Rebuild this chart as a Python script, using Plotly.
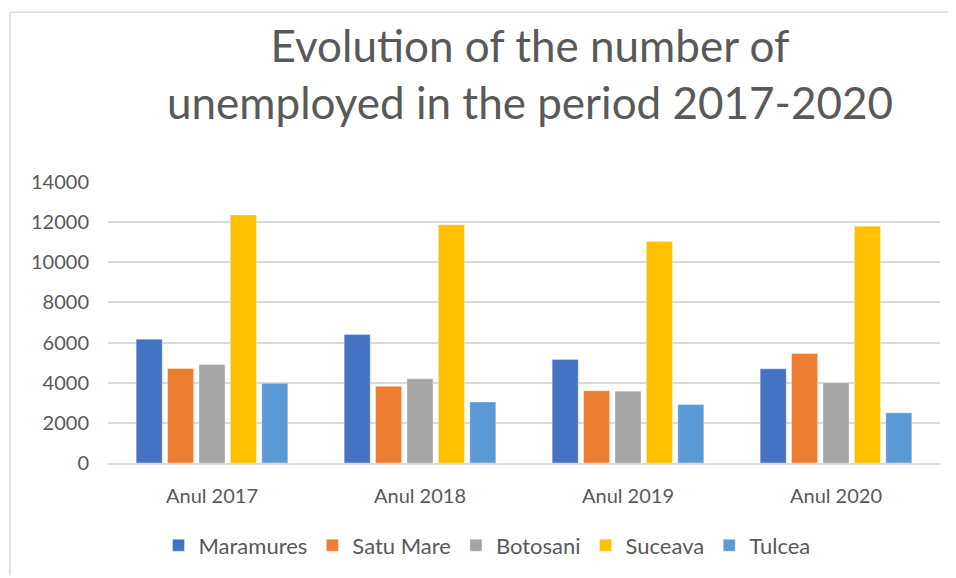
import plotly.graph_objects as go

categories = ["Anul 2017", "Anul 2018", "Anul 2019", "Anul 2020"]
series_names = ["Maramures", "Satu Mare", "Botosani", "Suceava", "Tulcea"]
maramures = [6170, 6400, 5160, 4690]
satu_mare = [4710, 3820, 3600, 5455]
botosani = [4910, 4200, 3570, 4000]
suceava = [12360, 11870, 11040, 11800]
tulcea = [3970, 3040, 2910, 2500]
colors = ["#4472C4", "#ED7D31", "#A5A5A5", "#FFC000", "#5B9BD5"]
y_ticks = [0, 2000, 4000, 6000, 8000, 10000, 12000, 14000]

values = [maramures, satu_mare, botosani, suceava, tulcea]

# page body has an 8px margin, so the figure is drawn 8px smaller
OFF = 8
W, H = 956 - OFF, 578 - OFF
L, R, T, B = 108 - OFF, 16, 182 - OFF, 113
pw, ph = W - L - R, H - T - B

def px_x(p):  # screen pixel -> paper x
    return (p - OFF - L) / pw

def px_y(p):  # screen pixel -> paper y
    return (H - B - (p - OFF)) / ph

font = "Lato, 'Open Sans', sans-serif"
txt = "#595959"

fig = go.Figure()
for name, vals, c in zip(series_names, values, colors):
    fig.add_trace(go.Bar(
        name=name, x=categories, y=vals,
        marker=dict(color=c, line=dict(color="rgba(255,255,255,0.35)", width=1)),
    ))

fig.update_layout(
    width=W, height=H,
    margin=dict(l=L, r=R, t=T, b=B),
    paper_bgcolor="white", plot_bgcolor="white",
    barmode="group", bargap=0.245, bargroupgap=0.17,
    font=dict(family=font, color=txt, size=20),
    title=dict(
        text="Evolution of the number of<br>unemployed in the period 2017-2020",
        x=(530 - OFF) / W, xanchor="center", y=1 - 54 / H, yanchor="middle",
        font=dict(size=44, color=txt, family=font),
    ),
    showlegend=True,
    legend=dict(
        orientation="h", x=px_x(487), xanchor="center",
        y=px_y(548), yanchor="middle",
        font=dict(size=22, color=txt), traceorder="normal",
        itemwidth=30,
    ),
    xaxis=dict(
        showgrid=False, showline=True, linecolor="#d9d9d9", linewidth=1.5,
        ticks="", ticklabelstandoff=14, tickfont=dict(size=20, color=txt),
    ),
    yaxis=dict(
        range=[0, 14000], tickvals=y_ticks, ticktext=[str(v) for v in y_ticks],
        showgrid=True, gridcolor="#d9d9d9", gridwidth=1.5,
        zeroline=False, showline=False, ticks="",
        ticklabelstandoff=18, tickfont=dict(size=20, color=txt),
    ),
    shapes=[
        dict(type="line", xref="paper", yref="paper",
             x0=px_x(10), x1=px_x(10), y0=px_y(11), y1=px_y(578),
             line=dict(color="#d9d9d9", width=1.5)),
        dict(type="line", xref="paper", yref="paper",
             x0=px_x(10), x1=px_x(956), y0=px_y(11), y1=px_y(11),
             line=dict(color="#d9d9d9", width=1.5)),
    ],
)

fig.write_html("out.html")
